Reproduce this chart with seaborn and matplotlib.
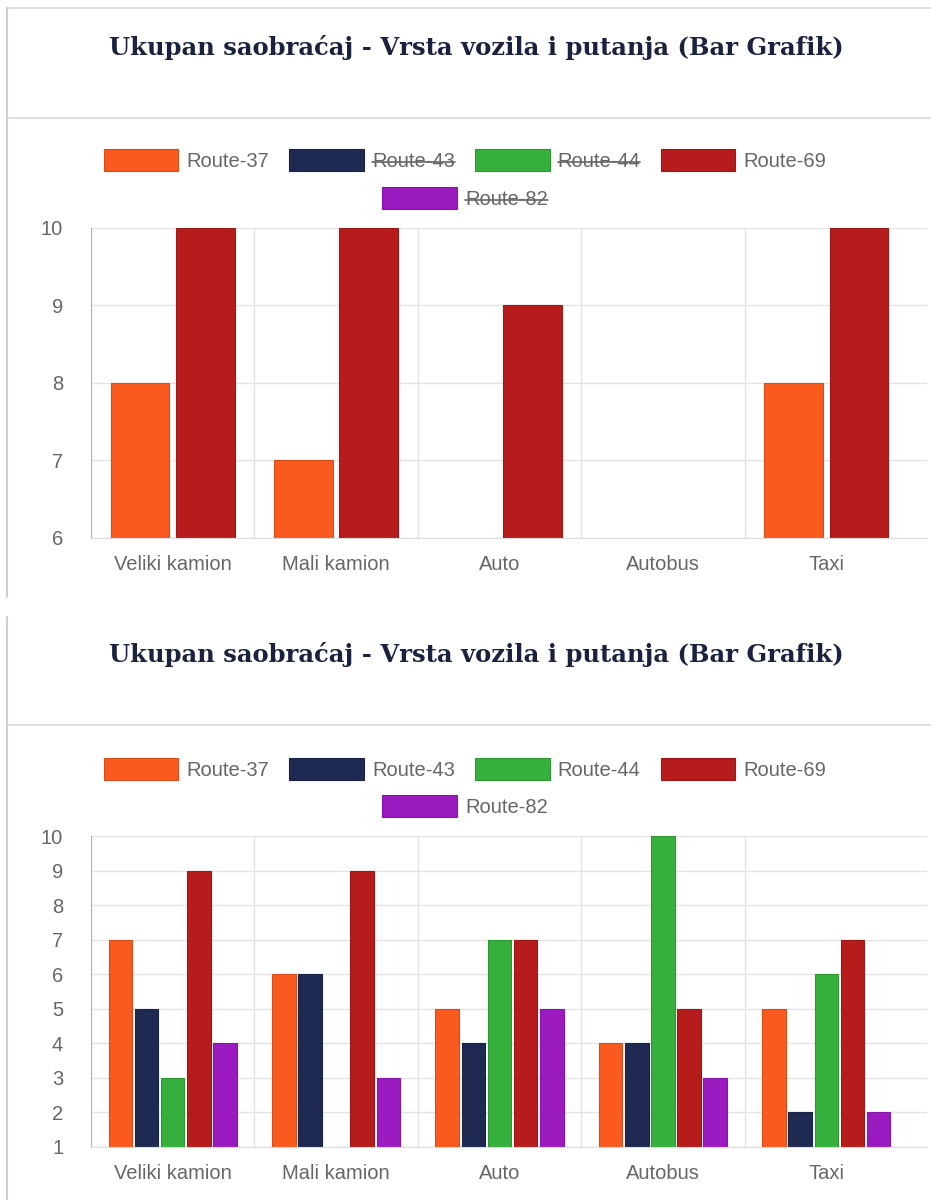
import numpy as np
import pandas as pd
import matplotlib.pyplot as plt
import seaborn as sns
from matplotlib.patches import Patch
from matplotlib.lines import Line2D
import matplotlib.colors as mcolors

# ── DATA ─────────────────────────────────────────────────────
vozila = ['Veliki kamion', 'Mali kamion', 'Auto', 'Autobus', 'Taxi']
rute = ['Route-37', 'Route-43', 'Route-44', 'Route-69', 'Route-82']
boje = ['#fb5a1f', '#1e2a52', '#36b03c', '#b71c1c', '#9b1bc0']

# gornji grafik: vidljive samo Route-37 i Route-69
gore_vidljive = ['Route-37', 'Route-69']
gore_r37 = [8, 7, 6, 6, 8]
gore_r69 = [10, 10, 9, 6, 10]

# donji grafik: sve rute
dole_r37 = [7, 6, 5, 4, 5]
dole_r43 = [5, 6, 4, 4, 2]
dole_r44 = [3, 1, 7, 10, 6]
dole_r69 = [9, 9, 7, 5, 7]
dole_r82 = [4, 3, 5, 3, 2]

NASLOV = 'Ukupan saobraćaj - Vrsta vozila i putanja (Bar Grafik)'

sns.set_style('white')
plt.rcParams['font.family'] = ['Liberation Sans', 'DejaVu Sans']

W, H = 931, 1200
FS = 14.5
fig = plt.figure(figsize=(W / 100, H / 100), dpi=100)
fig.patch.set_facecolor('white')


def fx(px):
    return px / W


def fy(py):
    return 1 - py / H


def long_df(serije):
    rows = []
    for ruta, vals in serije.items():
        for v, val in zip(vozila, vals):
            rows.append({'vozilo': v, 'ruta': ruta, 'broj': val})
    return pd.DataFrame(rows)


def darker(c, f=0.85):
    r, g, b = mcolors.to_rgb(c)
    return (r * f, g * f, b * f)


def nacrtaj(ax, df, hue_order, ymin, ymax):
    pal = {r: boje[rute.index(r)] for r in hue_order}
    sns.barplot(data=df, x='vozilo', y='broj', hue='ruta', order=vozila,
                hue_order=hue_order, palette=pal, ax=ax, width=0.8, gap=0.1,
                saturation=1, errorbar=None, legend=False)
    for p in ax.patches:
        p.set_edgecolor(darker(p.get_facecolor()))
        # stubovi na samom dnu skale se ne vide
        p.set_linewidth(0.8 if p.get_height() > ymin else 0)
    ax.set_ylim(ymin, ymax)
    ax.set_xlim(-0.5, 4.5 + 19 / 163.5)
    ax.set_yticks(range(ymin, ymax + 1))
    ax.set_xlabel('')
    ax.set_ylabel('')
    ax.set_xticks(np.arange(-0.5, 4.0, 1.0), minor=True)
    ax.grid(axis='y', which='major', color='#e3e3e3', linewidth=1)
    ax.grid(axis='x', which='minor', color='#e3e3e3', linewidth=1)
    ax.set_axisbelow(True)
    ax.tick_params(axis='x', which='major', length=0, pad=12,
                   labelsize=FS, labelcolor='#666666')
    ax.tick_params(axis='x', which='minor', length=12, width=1,
                   color='#dcdcdc', direction='out')
    ax.tick_params(axis='y', length=8, width=1, color='#dcdcdc', pad=12,
                   labelsize=FS, labelcolor='#666666')
    for s in ['top', 'right']:
        ax.spines[s].set_visible(False)
    ax.spines['left'].set_color('#b5b5b5')
    ax.spines['bottom'].set_color('#dcdcdc')


def okvir(y_top, y_bot, y_title, y_sep, y_leg1, y_leg2, top_line, skrivene):
    # rub panela
    fig.add_artist(Line2D([fx(7), fx(7)], [fy(y_top), fy(y_bot)],
                          color='#cfcfcf', linewidth=1.5))
    if top_line:
        fig.add_artist(Line2D([fx(7), 1], [fy(y_top), fy(y_top)],
                              color='#d9d9d9', linewidth=1.2))
    fig.add_artist(Line2D([fx(7), 1], [fy(y_sep), fy(y_sep)],
                          color='#d9d9d9', linewidth=1.2))
    fig.text(fx(476), fy(y_title), NASLOV, ha='center', va='center',
             family='DejaVu Serif', fontweight='heavy',
             fontsize=17.5, color='#1b2240')

    handles = [Patch(facecolor=b, edgecolor=darker(b), linewidth=0.8) for b in boje]
    kw = dict(loc='center', frameon=False, fontsize=FS, labelcolor='#666666',
              handlelength=3.7, handleheight=1.35, handletextpad=0.4,
              columnspacing=1.0)
    leg1 = fig.legend(handles[:4], rute[:4], ncol=4,
                      bbox_to_anchor=(fx(465), fy(y_leg1)), **kw)
    leg2 = fig.legend(handles[4:], rute[4:], ncol=1,
                      bbox_to_anchor=(fx(465), fy(y_leg2)), **kw)
    return [leg1, leg2], skrivene


# ── GORNJI GRAFIK ────────────────────────────────────────────
ax1 = fig.add_axes([fx(91), fy(538), fx(836), fy(228) - fy(538)])
df_gore = long_df({'Route-37': gore_r37, 'Route-69': gore_r69})
nacrtaj(ax1, df_gore, gore_vidljive, 6, 10)
legende_gore = okvir(8, 597, 47, 118, 160, 198, True,
                     ['Route-43', 'Route-44', 'Route-82'])

# ── DONJI GRAFIK ─────────────────────────────────────────────
ax2 = fig.add_axes([fx(91), fy(1147), fx(836), fy(836) - fy(1147)])
df_dole = long_df({'Route-37': dole_r37, 'Route-43': dole_r43,
                   'Route-44': dole_r44, 'Route-69': dole_r69,
                   'Route-82': dole_r82})
nacrtaj(ax2, df_dole, rute, 1, 10)
legende_dole = okvir(617, 1200, 655, 725, 769, 806, False, [])

# precrtani nazivi skrivenih ruta u legendi
fig.canvas.draw()
renderer = fig.canvas.get_renderer()
for legs, skrivene in [legende_gore, legende_dole]:
    for leg in legs:
        for t in leg.get_texts():
            if t.get_text() in skrivene:
                bb = t.get_window_extent(renderer)
                ym = (bb.y0 + bb.y1) / 2 - 1
                fig.add_artist(Line2D([bb.x0 / W, bb.x1 / W], [ym / H, ym / H],
                                      color='#666666', linewidth=1.2))

plt.savefig('out.png', dpi=100)
plt.close()
